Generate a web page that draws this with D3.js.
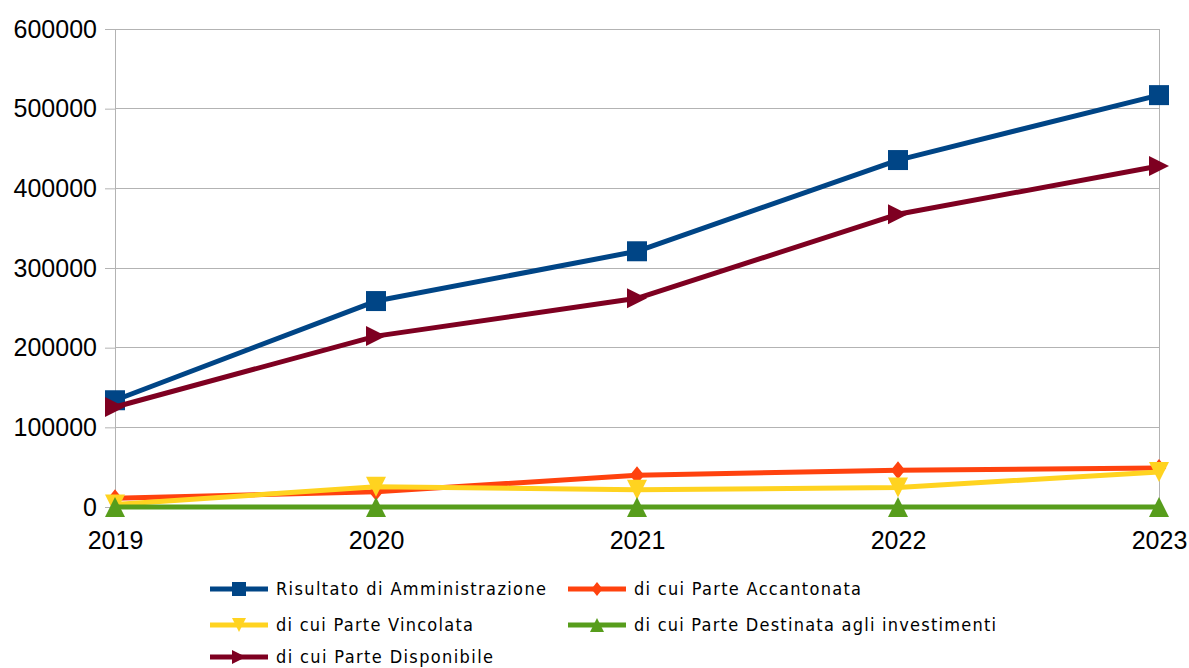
<!DOCTYPE html>
<html><head><meta charset="utf-8">
<script src="https://cdn.jsdelivr.net/npm/d3@7"></script>
<style>body{margin:0;background:#fff}svg{display:block}</style>
</head><body>
<svg id="c" width="1189" height="668"></svg>
<script>
const years = ["2019","2020","2021","2022","2023"];
const yTicks = [0,100000,200000,300000,400000,500000,600000];
const risultato = [134000, 258500, 321000, 435500, 517000];
const accantonata = [11000, 19000, 40000, 46000, 49000];
const vincolata = [3000, 25500, 21500, 24500, 44000];
const destinata = [0, 0, 0, 0, 0];
const disponibile = [125500, 214500, 262000, 367500, 428000];

const seriesNames = ["Risultato di Amministrazione","di cui Parte Accantonata","di cui Parte Vincolata","di cui Parte Destinata agli investimenti","di cui Parte Disponibile"];
const seriesValues = [risultato, accantonata, vincolata, destinata, disponibile];
const colors = ["#004586","#ff420e","#ffd320","#579d1c","#7e0021"];
const symbols = ["square","diamond","down","up","right"];

const svg = d3.select("#c");
const x = d3.scalePoint().domain(years).range([115,1159]);
const y = d3.scaleLinear().domain([0,600000]).range([507,29]);

svg.append("g").selectAll("line").data(yTicks).join("line")
  .attr("x1",115).attr("x2",1159).attr("y1",d=>y(d)).attr("y2",d=>y(d))
  .attr("stroke","#b3b3b3").attr("stroke-width",1).attr("shape-rendering","crispEdges");
svg.append("line").attr("x1",1159).attr("x2",1159).attr("y1",y(600000)).attr("y2",y(0)+8)
  .attr("stroke","#b3b3b3").attr("shape-rendering","crispEdges");

const yAxis = svg.append("g").attr("transform","translate(115,0)")
  .call(d3.axisLeft(y).tickValues(yTicks).tickFormat(d3.format("d")).tickSize(10).tickPadding(8));
yAxis.select(".domain").attr("stroke","#b3b3b3");
yAxis.selectAll(".tick line").attr("stroke","#b3b3b3");
yAxis.selectAll("text").attr("font-family","Liberation Sans, Arial, sans-serif").attr("font-size",25).attr("fill","#000");

const xAxis = svg.append("g").attr("transform","translate(0,507)")
  .call(d3.axisBottom(x).tickSize(8).tickPadding(16));
xAxis.select(".domain").remove();
xAxis.selectAll(".tick line").attr("stroke","#b3b3b3");
xAxis.selectAll("text").attr("font-family","Liberation Sans, Arial, sans-serif").attr("font-size",25).attr("fill","#000");

function marker(g, type, cx, cy, s, color){
  let p;
  if(type==="square") p = `M${cx-s},${cy-s}h${2*s}v${2*s}h${-2*s}Z`;
  else if(type==="diamond") p = `M${cx},${cy-s}L${cx+s*0.8},${cy}L${cx},${cy+s}L${cx-s*0.8},${cy}Z`;
  else if(type==="down") p = `M${cx-s},${cy-s}L${cx+s},${cy-s}L${cx},${cy+s}Z`;
  else if(type==="up") p = `M${cx-s},${cy+s}L${cx+s},${cy+s}L${cx},${cy-s}Z`;
  else p = `M${cx-s},${cy-s}L${cx+s},${cy}L${cx-s},${cy+s}Z`;
  g.append("path").attr("d",p).attr("fill",color);
}

const line = d3.line().x((d,i)=>x(years[i])).y(d=>y(d));
const sizes = [10,9,10,10,10];
const order = [0,4,1,2,3];
order.forEach(k=>{
  const g = svg.append("g");
  g.append("path").datum(seriesValues[k]).attr("d",line).attr("fill","none")
   .attr("stroke",colors[k]).attr("stroke-width",5).attr("stroke-linejoin","round");
  seriesValues[k].forEach((v,i)=>marker(g,symbols[k],x(years[i]),y(v),sizes[k],colors[k]));
});

const legPos = [[210,589],[568,589],[210,625],[568,625],[210,657]];
const legW = [270,227,197,362,217];
seriesNames.forEach((n,k)=>{
  const [lx,ly] = legPos[k];
  const g = svg.append("g");
  g.append("line").attr("x1",lx).attr("x2",lx+58).attr("y1",ly).attr("y2",ly)
   .attr("stroke",colors[k]).attr("stroke-width",5);
  marker(g,symbols[k],lx+29,ly,7,colors[k]);
  g.append("text").attr("x",lx+66).attr("y",ly+6).text(n)
   .attr("font-family","Liberation Sans Narrow, DejaVu Sans Condensed, sans-serif").attr("font-size",18)
   .attr("textLength",legW[k]).attr("lengthAdjust","spacing").attr("fill","#000");
});
</script>
</body></html>
